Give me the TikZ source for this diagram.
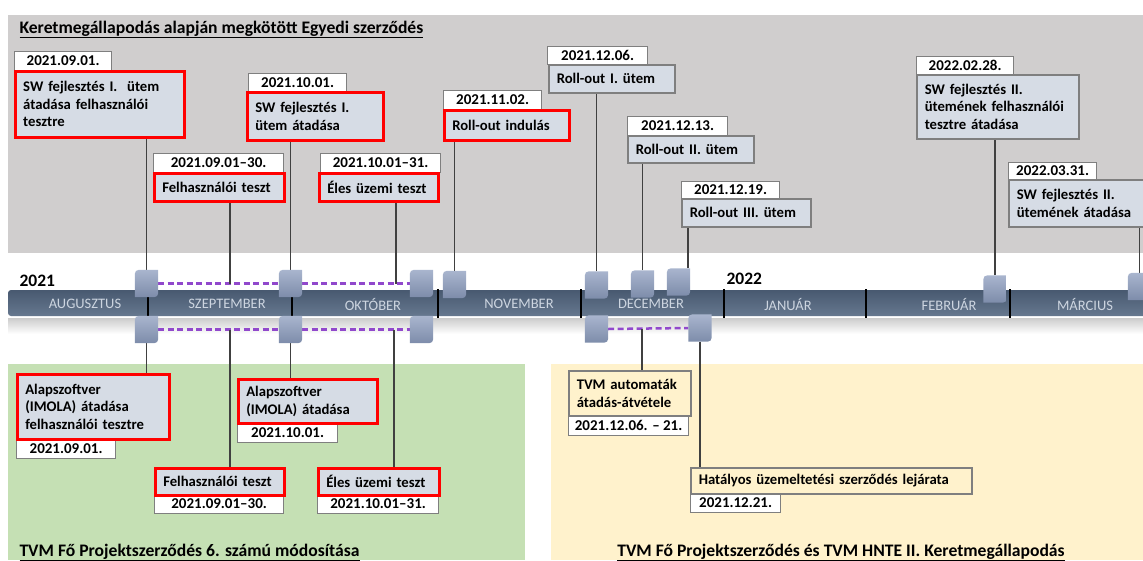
\documentclass[tikz,border=0pt]{standalone}
\usepackage{fontspec}
\setmainfont{Carlito}
\definecolor{bggray}{HTML}{D0CECE}
\definecolor{bggreen}{HTML}{C5E0B4}
\definecolor{bgyellow}{HTML}{FFF2CC}
\definecolor{boxfill}{HTML}{D6DCE5}
\definecolor{bordergray}{HTML}{7F7F7F}
\definecolor{connc}{HTML}{404040}
\definecolor{mkA}{HTML}{A9B5CE}
\definecolor{mkB}{HTML}{7D8CAA}
\definecolor{barA}{HTML}{485970}
\definecolor{barB}{HTML}{66788F}
\definecolor{monthtxt}{HTML}{CDD5E0}
\definecolor{dashpurple}{HTML}{9148CC}
\newcommand\fBox{\bfseries\fontsize{14.7}{17.5}\selectfont}
\newcommand\fDate{\bfseries\fontsize{15}{17}\selectfont}
\newcommand\fMonth{\fontsize{14.5}{16}\selectfont}
\newcommand\fYear{\bfseries\fontsize{17.5}{20}\selectfont}
\newcommand\fTitle{\bfseries\fontsize{17.6}{20}\selectfont}
\begin{document}
\begin{tikzpicture}[x=1pt,y=-1pt,
  bx/.style={anchor=north west, inner xsep=8pt, inner ysep=2pt, align=left, font=\fBox, text=black},
  rbox/.style={bx, draw=red, line width=2.5pt, fill=boxfill},
  gbox/.style={bx, draw=bordergray, line width=1.5pt, fill=boxfill},
  ybox/.style={bx, draw=bordergray, line width=1.5pt, fill=bgyellow},
  dbox/.style={anchor=north west, draw=bordergray, line width=1.2pt, fill=white, inner sep=0pt, font=\fDate, text=black},
  mk/.style={minimum width=23pt, minimum height=27pt, inner sep=0pt},
  mkshade/.style={top color=mkA, bottom color=mkB},
  month/.style={font=\fMonth, text=monthtxt},
  yr/.style={font=\fYear, anchor=base west},
  ttl/.style={font=\fTitle, anchor=base west},
  conn/.style={draw=connc, line width=1.5pt},
  dsh/.style={draw=dashpurple, line width=2.5pt, dash pattern=on 6pt off 3.5pt},
  divider/.style={draw=black, line width=2pt}
]
\useasboundingbox (0,0) rectangle (1143,560);
% backgrounds
\fill[bggray] (8,15) rectangle (1143,253);
\fill[bggreen] (8,364) rectangle (525,560);
\fill[bgyellow] (551,364) rectangle (1143,560);
% titles
\node[ttl] (ttop) at (16,33) {\underline{Keretmegállapodás alapján megkötött Egyedi szerződés}};
\node[ttl] (tbl) at (16,556) {\underline{TVM Fő Projektszerződés 6. számú módosítása}};
\node[font=\fTitle, anchor=base] (tbr) at (841,556) {\underline{TVM Fő Projektszerződés és TVM HNTE II. Keretmegállapodás}};
% timeline bar
\shade[top color=barA, bottom color=barB, rounded corners=3pt] (8,290) rectangle (1150,316);
\shade[top color=black!20, bottom color=white] (8,318) rectangle (1143,334);
\foreach \x in {148,292,438,581,724,866,1010} \draw[divider] (\x,289) -- (\x,318);
\node[month] (mAug) at (85,304) {AUGUSZTUS};
\node[month] (mSep) at (227,304) {SZEPTEMBER};
\node[month] (mOct) at (373,304) {OKTÓBER};
\node[month] (mNov) at (519,304) {NOVEMBER};
\node[month] (mDec) at (651,304) {DECEMBER};
\node[month] (mJan) at (788,304) {JANUÁR};
\node[month] (mFeb) at (949,304) {FEBRUÁR};
\node[month] (mMar) at (1085,304) {MÁRCIUS};
\node[yr] (y21) at (16,286) {2021};
\node[yr] (y22) at (723,284) {2022};
% markers (positions)
\node[mk] (m1) at (146.5,283.5) {};
\node[mk] (m2) at (290.5,283.5) {};
\node[mk] (m3) at (421.5,283.5) {};
\node[mk] (m4) at (454.5,284.5) {};
\node[mk] (m5) at (596.5,285) {};
\node[mk] (m6) at (642.5,284) {};
\node[mk] (m7) at (678.5,282) {};
\node[mk] (m8) at (995,289) {};
\node[mk] (m9) at (1139.5,286.5) {};
\node[mk] (n1) at (146.5,329.5) {};
\node[mk] (n2) at (290.5,329.5) {};
\node[mk] (n3) at (421.5,329.5) {};
\node[mk] (n4) at (596.5,329) {};
\node[mk] (n5) at (700,328) {};
% dashed spans
\draw[dsh] (m1.east) -- (m2.west);
\draw[dsh] (m2.east) -- (m3.west);
\draw[dsh] (n1.east) -- (n2.west);
\draw[dsh] (n2.east) -- (n3.west);
\draw[dsh] (n4.east) -- (n5.west);
\coordinate (t1) at (230,283.5);
\coordinate (t2) at (396,283.5);
\coordinate (u1) at (230,329.5);
\coordinate (u2) at (394,329.5);
\coordinate (u3) at (642,329);
% top boxes
\node[dbox, minimum width=97pt, minimum height=19pt] (d1) at (14,51) {2021.09.01.};
\node[rbox, minimum width=169pt, minimum height=66pt, text width=153pt] (b1) at (14,70) {SW fejlesztés I.\ \ ütem\\átadása felhasználói\\tesztre};
\node[dbox, minimum width=130pt, minimum height=19pt] (d2) at (153,153) {2021.09.01--30.};
\node[rbox, minimum width=130pt, minimum height=28pt, text width=114pt] (b2) at (153,172) {Felhasználói teszt};
\node[dbox, minimum width=98pt, minimum height=18pt] (d3) at (248,73) {2021.10.01.};
\node[rbox, minimum width=136pt, minimum height=48pt, text width=120pt] (b3) at (246,91) {SW fejlesztés I.\\ütem átadása};
\node[dbox, minimum width=120pt, minimum height=19pt] (d4) at (320,153) {2021.10.01--31.};
\node[rbox, minimum width=119pt, minimum height=28pt, text width=103pt] (b4) at (318,172) {Éles üzemi teszt};
\node[dbox, minimum width=98pt, minimum height=19pt] (d5) at (443,90) {2021.11.02.};
\node[rbox, minimum width=125pt, minimum height=30pt, text width=109pt] (b5) at (443,109) {Roll-out indulás};
\node[dbox, minimum width=100pt, minimum height=18pt] (d6) at (547,46) {2021.12.06.};
\node[gbox, minimum width=126pt, minimum height=28pt, text width=110pt] (b6) at (548,64) {Roll-out I. ütem};
\node[dbox, minimum width=100pt, minimum height=19pt] (d7) at (627,116) {2021.12.13.};
\node[gbox, minimum width=126pt, minimum height=27pt, text width=110pt] (b7) at (627,135) {Roll-out II. ütem};
\node[dbox, minimum width=98pt, minimum height=17pt] (d8) at (681,181) {2021.12.19.};
\node[gbox, minimum width=129pt, minimum height=28pt, text width=113pt] (b8) at (681,198) {Roll-out III. ütem};
\node[dbox, minimum width=97pt, minimum height=18pt] (d9) at (916,56) {2022.02.28.};
\node[gbox, minimum width=162pt, minimum height=64pt, text width=146pt] (b9) at (916,74) {SW fejlesztés II.\\ütemének felhasználói\\tesztre átadása};
\node[dbox, minimum width=88pt, minimum height=17pt] (d10) at (1008,162) {2022.03.31.};
\node[gbox, minimum width=140pt, minimum height=47pt, text width=124pt] (b10) at (1008,179) {SW fejlesztés II.\\ütemének átadása};
% bottom boxes
\node[dbox, minimum width=99pt, minimum height=20pt] (d11) at (16,438) {2021.09.01.};
\node[rbox, minimum width=152pt, minimum height=65pt, text width=136pt] (b11) at (16,373) {Alapszoftver\\(IMOLA) átadása\\felhasználói tesztre};
\node[dbox, minimum width=100pt, minimum height=20pt] (d12) at (237,422) {2021.10.01.};
\node[rbox, minimum width=139pt, minimum height=44pt, text width=123pt] (b12) at (237,378) {Alapszoftver\\(IMOLA) átadása};
\node[dbox, minimum width=129pt, minimum height=19pt] (d13) at (154,494) {2021.09.01--30.};
\node[rbox, minimum width=129pt, minimum height=27pt, text width=113pt] (b13) at (154,467) {Felhasználói teszt};
\node[dbox, minimum width=121pt, minimum height=19pt] (d14) at (317,494) {2021.10.01--31.};
\node[rbox, minimum width=121pt, minimum height=27pt, text width=105pt] (b14) at (317,467) {Éles üzemi teszt};
\node[dbox, minimum width=120pt, minimum height=20pt] (d15) at (568,415) {2021.12.06. -- 21.};
\node[ybox, minimum width=122pt, minimum height=45pt, text width=106pt] (b15) at (568,370) {TVM automaták\\átadás-átvétele};
\node[dbox, minimum width=90pt, minimum height=19pt] (d16) at (690,493) {2021.12.21.};
\node[ybox, minimum width=281pt, minimum height=26pt, text width=265pt] (b16) at (690,467) {Hatályos üzemeltetési szerződés lejárata};
% connectors
\draw[conn] (m1.north) -- (m1.north |- b1.south);
\draw[conn] (t1) -- (t1 |- b2.south);
\draw[conn] (m2.north) -- (m2.north |- b3.south);
\draw[conn] (t2) -- (t2 |- b4.south);
\draw[conn] (m4.north) -- (m4.north |- b5.south);
\draw[conn] (m5.north) -- (m5.north |- b6.south);
\draw[conn] (m6.north) -- (m6.north |- b7.south);
\draw[conn] ([xshift=-2pt]m7.north east) -- ([xshift=-2pt]m7.north east |- b8.south);
\draw[conn] (m8.north) -- (m8.north |- b9.south);
\draw[conn] (m9.north) -- (m9.north |- b10.south);
\draw[conn] (n1.south) -- (n1.south |- b11.north);
\draw[conn] (u1) -- (u1 |- b13.north);
\draw[conn] (n2.south) -- (n2.south |- b12.north);
\draw[conn] (u2) -- (u2 |- b14.north);
\draw[conn] (u3) -- (u3 |- b15.north);
\draw[conn] (n5.south) -- (n5.south |- b16.north);
% marker shapes
\foreach \m in {m1,m2,m3,m4,m5,m6,m7,m8,m9,n1,n2,n3,n4,n5}{
  \shade[mkshade] (\m.south west) -- ([yshift=-9pt]\m.north west) .. controls (\m.north west) .. ([xshift=9pt]\m.north west)
    -- (\m.north east) -- ([yshift=9pt]\m.south east) .. controls (\m.south east) .. ([xshift=-9pt]\m.south east) -- cycle;
}
\end{tikzpicture}
\end{document}
